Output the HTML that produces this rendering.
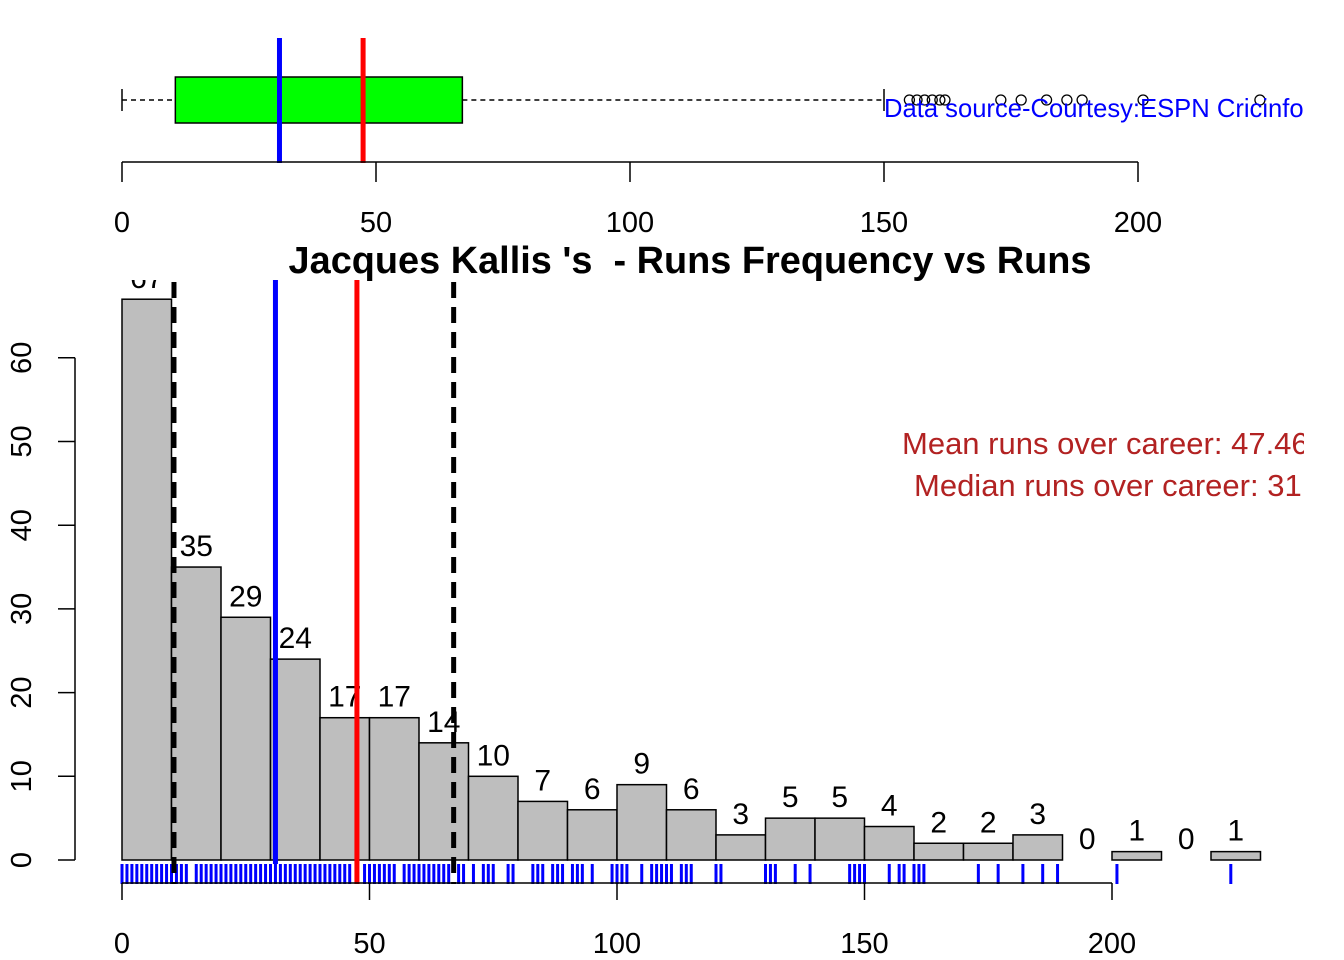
<!DOCTYPE html>
<html><head><meta charset="utf-8"><style>
body{margin:0;background:#fff}
svg{display:block;font-family:"Liberation Sans",Arial,sans-serif}
</style></head><body>
<svg id="c" width="1344" height="960" xmlns="http://www.w3.org/2000/svg">
<defs>
<clipPath id="clipTop"><rect x="0" y="0" width="1304" height="200"/></clipPath>
<clipPath id="clipH"><rect x="0" y="280" width="1304" height="680"/></clipPath>
</defs>
<g id="box"></g>
<g id="hist"></g>
</svg>
<script>
const binStarts=[0,10,20,30,40,50,60,70,80,90,100,110,120,130,140,150,160,170,180,190,200,210,220];
const counts=[67,35,29,24,17,17,14,10,7,6,9,6,3,5,5,4,2,2,3,0,1,0,1];
const yTicks=[0,10,20,30,40,50,60];
const xTicks=[0,50,100,150,200];
const boxStats=[0,10.5,31,67,150];
const meanRuns=47.46;
const medianRuns=31;
const outliers=[155,156.5,158,159.5,161,162,173,177,182,186,189,201,224];
const rugRuns=[0,1,2,3,4,5,6,7,8,9,10,11,12,13,15,16,17,18,19,20,21,22,23,24,25,26,27,28,29,30,31,32,33,34,35,36,37,38,39,40,41,42,43,44,45,46,49,50,51,52,53,54,55,57,58,59,60,61,62,63,64,65,66,68,69,71,73,74,75,78,79,83,84,85,87,88,89,91,92,93,95,99,100,101,102,105,107,108,109,110,111,113,114,115,120,121,130,131,132,136,139,147,148,149,150,155,157,158,160,161,162,173,177,182,186,189,201,224];

const NS='http://www.w3.org/2000/svg';
function mk(parent,tag,attrs,text){const e=document.createElementNS(NS,tag);for(const k in attrs)e.setAttribute(k,attrs[k]);if(text!==undefined)e.textContent=text;parent.appendChild(e);return e;}
const box=document.getElementById('box'), hist=document.getElementById('hist');

const bx=v=>122+v*5.08;
const bt=mk(box,'g',{'clip-path':'url(#clipTop)'});
let e;
e=mk(bt,'line',{x1:bx(boxStats[0]),x2:bx(boxStats[1]),y1:100,y2:100,stroke:'#000','stroke-width':1.5,'stroke-dasharray':'5,4'});

e=mk(bt,'line',{x1:bx(boxStats[3]),x2:bx(boxStats[4]),y1:100,y2:100,stroke:'#000','stroke-width':1.5,'stroke-dasharray':'5,4'});

[boxStats[0],boxStats[4]].forEach(v=>{const c=mk(bt,'line',{x1:bx(v),x2:bx(v),y1:89,y2:111,stroke:'#000','stroke-width':1.5});
});
e=mk(bt,'rect',{x:bx(boxStats[1]),y:77,width:bx(boxStats[3])-bx(boxStats[1]),height:46,fill:'#00ff00',stroke:'#000','stroke-width':1.5});

outliers.forEach(v=>{const c=mk(bt,'circle',{cx:bx(v),cy:100,r:5,fill:'none',stroke:'#000','stroke-width':1.3});
});
e=mk(bt,'text',{x:884,y:117,'font-size':25.6,fill:'#0000ff'},'Data source-Courtesy:ESPN Cricinfo');

e=mk(box,'line',{x1:bx(medianRuns),x2:bx(medianRuns),y1:38,y2:163,stroke:'#0000ff','stroke-width':5});

e=mk(box,'line',{x1:bx(meanRuns),x2:bx(meanRuns),y1:38,y2:163,stroke:'#ff0000','stroke-width':5});

e=mk(box,'line',{x1:bx(xTicks[0]),x2:bx(xTicks[xTicks.length-1]),y1:162,y2:162,stroke:'#000','stroke-width':1.5});

xTicks.forEach(v=>{const t=mk(box,'line',{x1:bx(v),x2:bx(v),y1:162,y2:182,stroke:'#000','stroke-width':1.5});

const l=mk(box,'text',{x:bx(v),y:232,'font-size':29,'text-anchor':'middle'},String(v));
});

const hx=v=>122+v*4.95;
const hy=v=>860-v*8.37;
e=mk(hist,'text',{x:690,y:273,'font-size':37.9,'font-weight':'bold','text-anchor':'middle',style:'white-space:pre'},"Jacques Kallis 's  - Runs Frequency vs Runs");

const hc=mk(hist,'g',{'clip-path':'url(#clipH)'});
binStarts.forEach((b,i)=>{
  const r=mk(hc,'rect',{x:hx(b),y:hy(counts[i]),width:hx(b+10)-hx(b),height:hy(0)-hy(counts[i]),fill:'#bebebe',stroke:'#000','stroke-width':1.5});
  
  const l=mk(hc,'text',{x:hx(b+5),y:hy(counts[i])-11,'font-size':30,'text-anchor':'middle'},String(counts[i]));
  
});
rugRuns.forEach(v=>{const r=mk(hc,'line',{x1:hx(v),x2:hx(v),y1:864,y2:884,stroke:'#0000ff','stroke-width':3});
});
[boxStats[1],boxStats[3]].forEach(v=>{const d=mk(hc,'line',{x1:hx(v),x2:hx(v),y1:282,y2:884,stroke:'#000','stroke-width':5,'stroke-dasharray':'16,9'});
});
e=mk(hc,'line',{x1:hx(medianRuns),x2:hx(medianRuns),y1:278,y2:864,stroke:'#0000ff','stroke-width':5});

e=mk(hc,'line',{x1:hx(meanRuns),x2:hx(meanRuns),y1:278,y2:884,stroke:'#ff0000','stroke-width':5});

e=mk(hc,'text',{x:902,y:454,'font-size':31,fill:'#b22222'},'Mean runs over career: '+meanRuns);

e=mk(hc,'text',{x:914,y:496,'font-size':31,fill:'#b22222'},'Median runs over career: '+medianRuns);

e=mk(hist,'line',{x1:75,x2:75,y1:hy(yTicks[0]),y2:hy(yTicks[yTicks.length-1]),stroke:'#000','stroke-width':1.5});

yTicks.forEach(v=>{const t=mk(hist,'line',{x1:58,x2:75,y1:hy(v),y2:hy(v),stroke:'#000','stroke-width':1.5});

const l=mk(hist,'text',{x:31,y:hy(v),'font-size':29,'text-anchor':'middle',transform:'rotate(-90 31 '+hy(v)+')'},String(v));
});
e=mk(hist,'line',{x1:hx(xTicks[0]),x2:hx(xTicks[xTicks.length-1]),y1:883,y2:883,stroke:'#000','stroke-width':1.5});

xTicks.forEach(v=>{const t=mk(hist,'line',{x1:hx(v),x2:hx(v),y1:883,y2:900,stroke:'#000','stroke-width':1.5});

const l=mk(hist,'text',{x:hx(v),y:953,'font-size':29,'text-anchor':'middle'},String(v));
});
</script>
</body></html>
